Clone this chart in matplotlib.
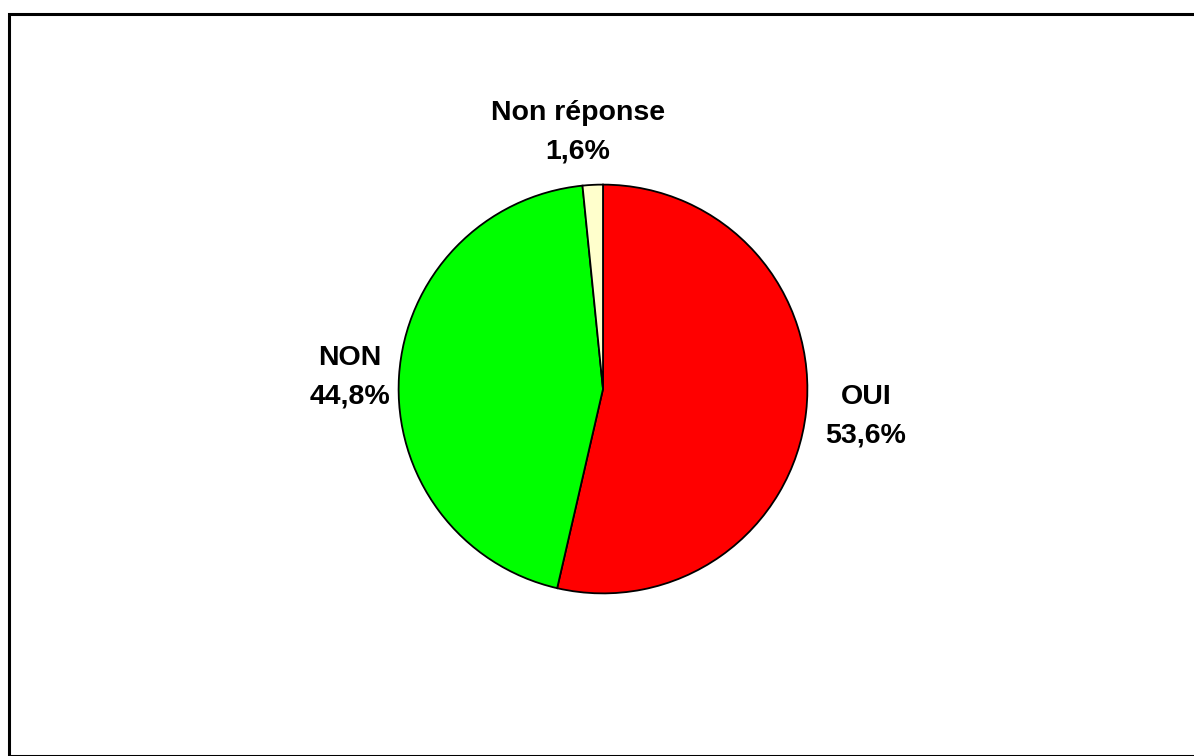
import matplotlib
matplotlib.use('Agg')
import matplotlib.pyplot as plt
from matplotlib.patches import Rectangle

labels = ['OUI', 'NON', 'Non réponse']
values = [53.6, 44.8, 1.6]
colors = ['#FF0000', '#00FF00', '#FFFFCC']

plt.rcParams['font.family'] = ['Liberation Sans', 'DejaVu Sans']

W, H = 1194, 756
fig = plt.figure(figsize=(W/100, H/100), dpi=100)

# frame around the chart area (runs off the right and bottom edges)
fig.patches.append(Rectangle((9/W, 0), 1.2, 1 - 14/H, transform=fig.transFigure,
                             fill=False, edgecolor='black', linewidth=2.2, zorder=0))

# pie centred at (603, 389) px, radius ~205 px
r = 205
ax = fig.add_axes([(603 - r)/W, 1 - (389 + r)/H, 2*r/W, 2*r/H])
ax.pie(values, colors=colors, startangle=90, counterclock=False,
       wedgeprops=dict(edgecolor='black', linewidth=1.3))
ax.set_xlim(-1.003, 1.003)
ax.set_ylim(-1.003, 1.003)
ax.set_aspect('equal')

# labels, positioned in figure pixels
pos = [(866, 416), (350, 377), (578, 132)]
for lab, v, (x, y) in zip(labels, values, pos):
    txt = lab + '\n' + ('%.1f%%' % v).replace('.', ',')
    fig.text(x/W, 1 - y/H, txt, ha='center', va='center', fontsize=20.5,
             fontweight='bold', linespacing=1.62)

fig.savefig('out.png', dpi=100)
